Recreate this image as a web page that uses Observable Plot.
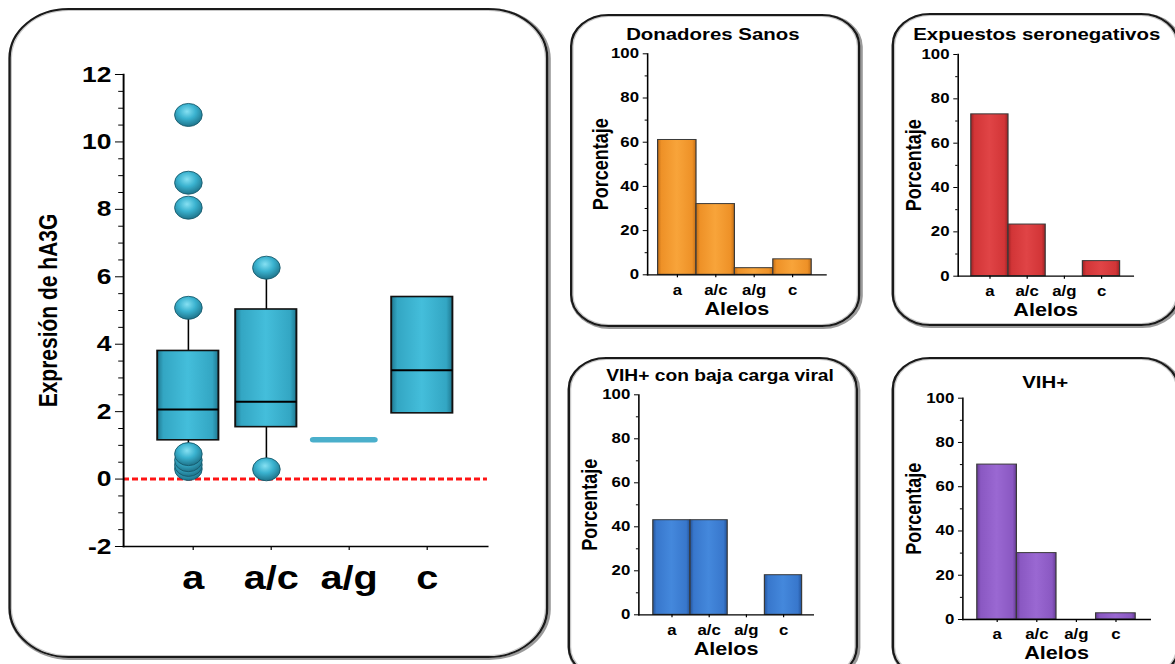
<!DOCTYPE html>
<html><head><meta charset="utf-8">
<script src="https://cdn.jsdelivr.net/npm/d3@7"></script>
<script src="https://cdn.jsdelivr.net/npm/@observablehq/plot@0.6"></script>
<style>
html,body{margin:0;padding:0;background:#fff;overflow:hidden;width:1175px;height:664px;}
#root{position:absolute;left:0;top:0;width:979.2px;height:664px;transform:scaleX(1.2);transform-origin:0 0;font-family:"Liberation Sans",Arial,sans-serif;}
.frame{position:absolute;box-sizing:border-box;border:2.4px solid #1a1a1a;box-shadow:1px 1px 0 1px #9a9a9a, inset 0 0 0 1px #c8c8c8;}
.chart{position:absolute;}
.chart svg{overflow:visible;max-width:none;}
.chart text{font-weight:bold;}
</style></head><body>
<svg width="0" height="0" style="position:absolute">
<defs>
<linearGradient id="g-teal" x1="0" x2="1" y1="0" y2="0">
<stop offset="0" stop-color="#1f7890"/><stop offset="0.1" stop-color="#33a6c3"/><stop offset="0.5" stop-color="#44bedb"/><stop offset="0.9" stop-color="#33a6c3"/><stop offset="1" stop-color="#1f7890"/>
</linearGradient>
<radialGradient id="g-dot" cx="0.45" cy="0.35" r="0.7">
<stop offset="0" stop-color="#86e0f2"/><stop offset="0.45" stop-color="#3ab2cf"/><stop offset="1" stop-color="#1a6a80"/>
</radialGradient>
<linearGradient id="g-orange" x1="0" x2="1" y1="0" y2="0">
<stop offset="0" stop-color="#c46f16"/><stop offset="0.1" stop-color="#ee9127"/><stop offset="0.5" stop-color="#f8a43a"/><stop offset="0.9" stop-color="#ee9127"/><stop offset="1" stop-color="#c46f16"/>
</linearGradient>
<linearGradient id="g-red" x1="0" x2="1" y1="0" y2="0">
<stop offset="0" stop-color="#9e2224"/><stop offset="0.1" stop-color="#d23537"/><stop offset="0.5" stop-color="#e04446"/><stop offset="0.9" stop-color="#d23537"/><stop offset="1" stop-color="#9e2224"/>
</linearGradient>
<linearGradient id="g-blue" x1="0" x2="1" y1="0" y2="0">
<stop offset="0" stop-color="#23539a"/><stop offset="0.1" stop-color="#3877cc"/><stop offset="0.5" stop-color="#4488dc"/><stop offset="0.9" stop-color="#3877cc"/><stop offset="1" stop-color="#23539a"/>
</linearGradient>
<linearGradient id="g-purple" x1="0" x2="1" y1="0" y2="0">
<stop offset="0" stop-color="#673c96"/><stop offset="0.1" stop-color="#8a58c2"/><stop offset="0.5" stop-color="#9a68d2"/><stop offset="0.9" stop-color="#8a58c2"/><stop offset="1" stop-color="#673c96"/>
</linearGradient>
</defs>
</svg>
<div id="root"></div>
<script>
// ---- data ----
const alleles = ["a", "a/c", "a/g", "c"];
const yTicks = [-2, 0, 2, 4, 6, 8, 10, 12];
const yLabel = "Expresión de hA3G";

const boxAlleles = ["a", "a/c", "c"];
const boxQ1 = [1.15, 1.54, 1.95];
const boxMedian = [2.06, 2.29, 3.23];
const boxQ3 = [3.80, 5.03, 5.40];

const whiskerAlleles = ["a", "a", "a/c", "a/c"];
const whiskerFrom = [3.80, 1.15, 5.03, 1.54];
const whiskerTo = [5.05, 0.74, 5.96, 0.29];

const pointAlleles = ["a", "a", "a", "a", "a", "a", "a", "a", "a/c", "a/c"];
const pointValues = [10.8, 8.79, 8.05, 5.08, 0.30, 0.42, 0.56, 0.74, 6.27, 0.29];

const singleAlleles = ["a/g"];
const singleValues = [1.17];

const panelTitles = ["Donadores Sanos", "Expuestos seronegativos", "VIH+ con baja carga viral", "VIH+"];
const pctDonadores = [61, 32, 3, 7];
const pctExpuestos = [73, 23.3, 0, 6.8];
const pctBajaCarga = [43, 43, 0, 18];
const pctVIH = [70, 30, 0, 2.8];
const pctTicks = [0, 20, 40, 60, 80, 100];
const pctMinorTicks = [10, 30, 50, 70, 90];
const pctLabel = "Porcentaje";
const xLabel = "Alelos";

// ---- drawing ----
const FONT = '"Liberation Sans", Arial, Helvetica, sans-serif';
const root = document.getElementById("root");
const MID = {textAnchor: "middle", lineAnchor: "middle"};

function addFrame(l, t, w, h, r) {
  const d = document.createElement("div");
  d.className = "frame";
  Object.assign(d.style, {left: l + "px", top: t + "px", width: w + "px", height: h + "px", borderRadius: r + "px"});
  root.appendChild(d);
}
function addChart(svg, l, t) {
  const d = document.createElement("div");
  d.className = "chart";
  d.style.left = l + "px";
  d.style.top = t + "px";
  d.appendChild(svg);
  root.appendChild(d);
}

addFrame(6.7, 8, 450, 650, 50);
addFrame(475, 14, 241.7, 313, 32);
addFrame(743.3, 13, 240, 313, 32);
addFrame(472.5, 357, 242.5, 322, 32);
addFrame(743.3, 357, 240, 322, 32);

const boxData = boxAlleles.map((a, i) => ({allele: a, q1: boxQ1[i], med: boxMedian[i], q3: boxQ3[i]}));
const whiskers = whiskerAlleles.map((a, i) => ({allele: a, y1: whiskerFrom[i], y2: whiskerTo[i]}));
const points = pointAlleles.map((a, i) => ({allele: a, v: pointValues[i]}));
const singles = singleAlleles.map((a, i) => ({allele: a, v: singleValues[i]}));
const yMinor = d3.range(-2, 12.01, 0.5).filter(v => !yTicks.includes(v));

const main = Plot.plot({
  width: 457, height: 620,
  marginLeft: 102.5, marginRight: 51.2, marginTop: 74, marginBottom: 74,
  style: {background: "transparent", fontFamily: FONT, overflow: "visible", color: "#000"},
  x: {domain: alleles, paddingInner: 0.215, paddingOuter: 0.41, axis: null},
  y: {domain: [-2, 12], axis: null},
  marks: [
    Plot.ruleY([0], {stroke: "#ff1414", strokeWidth: 3, strokeDasharray: "5,2.5"}),
    Plot.ruleX(whiskers, {x: "allele", y1: "y1", y2: "y2", stroke: "#000", strokeWidth: 1.3}),
    Plot.barY(boxData, {x: "allele", y1: "q1", y2: "q3", fill: "url(#g-teal)", stroke: "#111", strokeWidth: 1.6}),
    Plot.tickY(boxData, {x: "allele", y: "med", stroke: "#000", strokeWidth: 2}),
    Plot.tickY(singles, {x: "allele", y: "v", stroke: "#4aafcb", strokeWidth: 5.5, strokeLinecap: "round"}),
    Plot.dot(points, {x: "allele", y: "v", r: 11.5, fill: "url(#g-dot)", stroke: "#16596b", strokeWidth: 0.8}),
    Plot.frame({anchor: "left", stroke: "#000", strokeWidth: 1.6}),
    Plot.frame({anchor: "bottom", stroke: "#000", strokeWidth: 1.6}),
    Plot.axisY(yMinor, {tickSize: 4, tickFormat: () => "", label: null}),
    Plot.axisY(yTicks, {tickSize: 6.7, tickPadding: 3.5, fontSize: 22, label: null, tickFormat: d => `${d}`}),
    Plot.axisX(alleles, {tickSize: 4, tickPadding: 15, fontSize: 33, dx: 4, label: null}),
    Plot.text([yLabel], {frameAnchor: "left", dx: -62, rotate: -90, fontSize: 21, ...MID})
  ]
});
addChart(main, 0, 0);

function panel(values, title, grad, c) {
  const data = alleles.map((a, i) => ({allele: a, pct: values[i]})).filter(d => d.pct > 0);
  return Plot.plot({
    width: c.w, height: c.h,
    marginLeft: c.ml, marginRight: c.mr, marginTop: c.mt, marginBottom: c.mb,
    style: {background: "transparent", fontFamily: FONT, overflow: "visible", color: "#000"},
    x: {domain: alleles, paddingInner: 0, paddingOuter: c.po, align: c.align, axis: null},
    y: {domain: [0, 100], axis: null},
    marks: [
      Plot.barY(data, {x: "allele", y: "pct", fill: `url(#${grad})`, stroke: "#3a3a3a", strokeWidth: 1}),
      Plot.frame({anchor: "left", stroke: "#000", strokeWidth: 1.3}),
      Plot.frame({anchor: "bottom", stroke: "#000", strokeWidth: 1.3}),
      Plot.axisY(pctMinorTicks, {tickSize: 2, tickFormat: () => "", label: null}),
      Plot.axisY(pctTicks, {tickSize: 3.6, tickPadding: 3.6, fontSize: 14, label: null}),
      Plot.axisX(alleles, {tickSize: 3, tickPadding: 7, fontSize: 14, label: null}),
      Plot.text([pctLabel], {frameAnchor: "left", dx: c.ydx, rotate: -90, fontSize: 18, ...MID}),
      Plot.text([xLabel], {frameAnchor: "bottom", dy: 34, fontSize: 18, ...MID}),
      Plot.text([title], {frameAnchor: "top", dx: c.tdx, dy: c.tdy, fontSize: c.tfs, ...MID})
    ]
  });
}

addChart(panel(pctDonadores, panelTitles[0], "g-orange",
  {w: 242, h: 313, ml: 64.2, mr: 29.2, mt: 39.3, mb: 52.7, po: 0.31, align: 0.42, ydx: -39, tdx: -20, tdy: -19.3, tfs: 17}), 475, 14);
addChart(panel(pctExpuestos, panelTitles[1], "g-red",
  {w: 238.4, h: 313, ml: 55, mr: 37.5, mt: 41, mb: 50.3, po: 0.3, align: 0.5, ydx: -37, tdx: -7.5, tdy: -20, tfs: 17}), 743.3, 13);
addChart(panel(pctBajaCarga, panelTitles[2], "g-blue",
  {w: 242.5, h: 307, ml: 58.9, mr: 38.3, mt: 37.3, mb: 49.7, po: 0.31, align: 0.57, ydx: -41, tdx: -5, tdy: -18.6, tfs: 16}), 472.5, 357);
addChart(panel(pctVIH, panelTitles[3], "g-purple",
  {w: 238.4, h: 307, ml: 58.9, mr: 23.4, mt: 40.7, mb: 45, po: 0.3, align: 0.5, ydx: -41, tdx: -9.5, tdy: -15.4, tfs: 17}), 743.3, 357);
</script>
</body></html>
